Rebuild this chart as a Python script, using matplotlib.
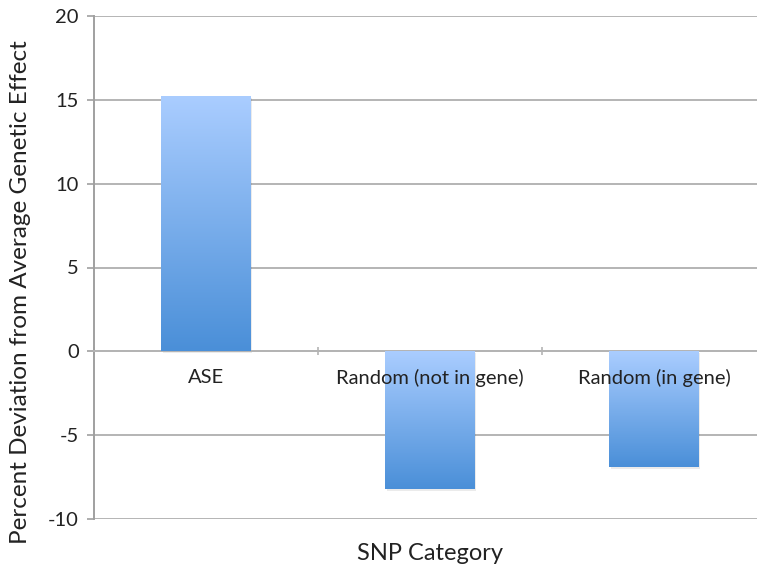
import numpy as np
import matplotlib.pyplot as plt
from matplotlib.colors import LinearSegmentedColormap

# data
categories = ['ASE', 'Random (not in gene)', 'Random (in gene)']
deviation = [15.2, -8.2, -6.9]
y_ticks = [-10, -5, 0, 5, 10, 15, 20]

plt.rcParams['font.family'] = ['Lato', 'DejaVu Sans']

fig = plt.figure(figsize=(7.57, 5.73), dpi=100)
ax = fig.add_axes([94 / 757, 54 / 573, 672 / 757, 503 / 573])

x = np.arange(len(categories))
bars = ax.bar(x, deviation, width=0.4, facecolor='none', edgecolor='none', zorder=3)

# vertical gradient in each bar: light at top edge, darker at bottom edge
cmap = LinearSegmentedColormap.from_list('blu', ['#4a8fd8', '#aacdff'])
grad = np.linspace(0, 1, 256).reshape(-1, 1)
for b in bars:
    x0, y0 = b.get_x(), b.get_y()
    w, h = b.get_width(), b.get_height()
    lo, hi = min(y0, y0 + h), max(y0, y0 + h)
    # soft shadow
    ax.bar(x0 + w / 2 + 0.006, hi - lo, bottom=lo - 0.12, width=w, color='#000000',
           alpha=0.08, zorder=2, edgecolor='none')
    ax.imshow(grad, extent=[x0, x0 + w, lo, hi], origin='lower', cmap=cmap,
              aspect='auto', zorder=3, interpolation='bicubic')

ax.set_xlim(-0.5, len(categories) - 0.5)
ax.set_ylim(-10, 20)
ax.set_yticks(y_ticks)
ax.set_yticklabels([str(t) for t in y_ticks], fontsize=14.5, color='#222222')
ax.yaxis.grid(True, color='#b4b4b4', linewidth=1.4, zorder=0)
ax.set_axisbelow(True)
ax.tick_params(axis='y', length=5, width=1.2, color='#a0a0a0', pad=6)

# category axis sits at zero
ax.spines['bottom'].set_position(('data', 0))
ax.spines['bottom'].set_color('#b4b4b4')
ax.spines['bottom'].set_linewidth(1.4)
ax.spines['left'].set_color('#a0a0a0')
ax.spines['left'].set_linewidth(1.4)
ax.spines['top'].set_visible(False)
ax.spines['right'].set_visible(False)

# category labels drawn above the bars, like the original
ax.set_xticks(x)
ax.set_xticklabels([])
ax.tick_params(axis='x', length=0)
for xi, name in zip(x, categories):
    ax.annotate(name, (xi, 0), xytext=(0, -19), textcoords='offset points',
                ha='center', va='center', fontsize=14.5, color='#222222', zorder=6)
ax.set_xticks(np.arange(len(categories) + 1) - 0.5, minor=True)
ax.tick_params(axis='x', which='minor', length=6, width=1.2, color='#b4b4b4',
               direction='inout')

fig.text(21 / 757, 1 - 292 / 573, 'Percent Deviation from Average Genetic Effect',
         fontsize=17.5, color='#222222', rotation=90, ha='center', va='center')
fig.text(430 / 757, 1 - 553 / 573, 'SNP Category', fontsize=17, color='#222222',
         ha='center', va='center')

fig.savefig('out.png', dpi=100)
